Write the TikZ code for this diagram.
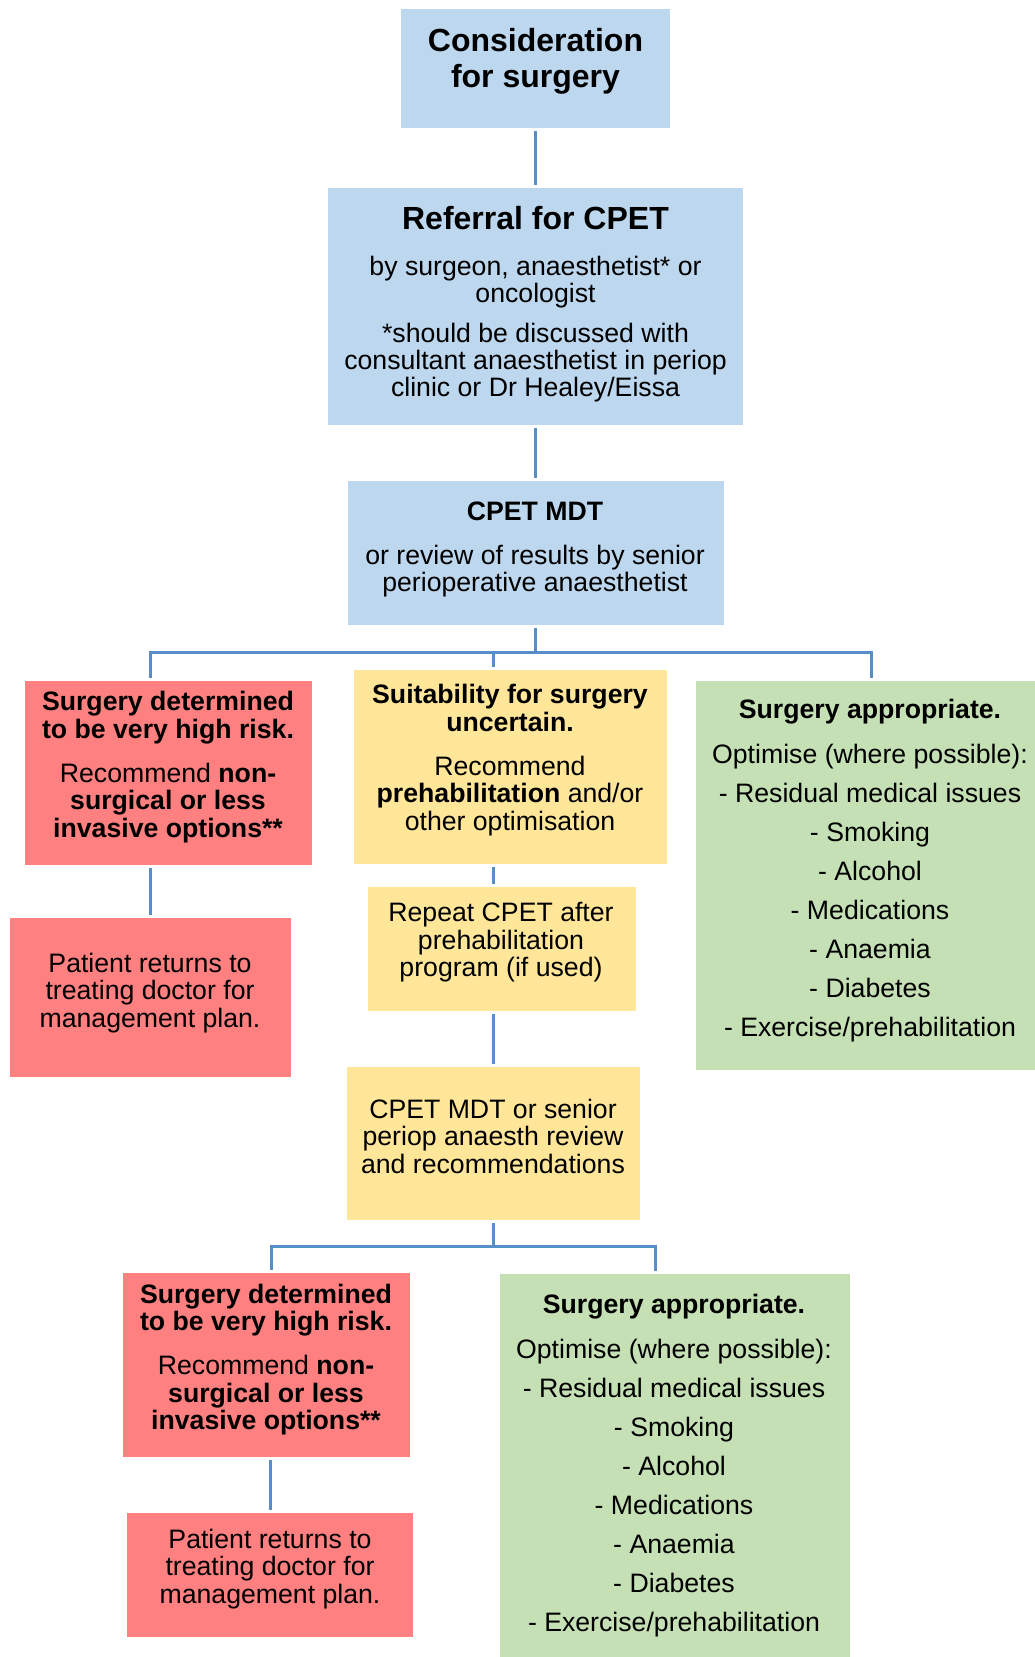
\documentclass[tikz,border=0pt]{standalone}
\usepackage{fontspec}
\setmainfont{Liberation Sans}
\usetikzlibrary{fit}
\definecolor{bxblue}{RGB}{189,215,238}
\definecolor{bxred}{RGB}{255,128,128}
\definecolor{bxyellow}{RGB}{255,230,153}
\definecolor{bxgreen}{RGB}{197,224,180}
\definecolor{lineblue}{RGB}{86,142,200}
\begin{document}
\begin{tikzpicture}[x=0.75pt,y=-0.75pt,
  box/.style={draw=none,inner sep=0pt,outer sep=0pt},
  txt/.style={align=center,inner sep=0pt,outer sep=0pt,font=\fontsize{20}{20.6}\selectfont},
  bigtxt/.style={txt,font=\fontsize{24}{27}\selectfont\bfseries},
  listtxt/.style={txt,font=\fontsize{20}{29.25}\selectfont},
  conn/.style={draw=lineblue,line width=2.25pt},
  gapa/.style={shorten <=2.25pt,shorten >=2.25pt}
]
\useasboundingbox (0,0) rectangle (1035,1657);
\fill[white] (0,0) rectangle (1035,1657);

% boxes
\node[box,fill=bxblue,fit={(401,9) (670,128)}] (b1) {};
\node[box,fill=bxblue,fit={(328,188) (743,425)}] (b2) {};
\node[box,fill=bxblue,fit={(348,481) (724,625)}] (b3) {};
\node[box,fill=bxred,fit={(25,681) (312,865)}] (r1) {};
\node[box,fill=bxyellow,fit={(354,670) (667,864)}] (y1) {};
\node[box,fill=bxgreen,fit={(696,681) (1035,1070)}] (g1) {};
\node[box,fill=bxred,fit={(10,918) (291,1077)}] (r2) {};
\node[box,fill=bxyellow,fit={(368,887) (636,1011)}] (y2) {};
\node[box,fill=bxyellow,fit={(347,1067) (640,1220)}] (y3) {};
\node[box,fill=bxred,fit={(123,1273) (410,1457)}] (r3) {};
\node[box,fill=bxred,fit={(127,1513) (413,1637)}] (r4) {};
\node[box,fill=bxgreen,fit={(500,1274) (850,1657)}] (g2) {};

% texts
\node[bigtxt] (t1) at (535.5,61) {Consideration\\for surgery};
\node[txt] (t2) at (535.5,304.2) {{\fontsize{24}{27}\selectfont\bfseries Referral for CPET}\\[13.9pt]
  by surgeon, anaesthetist* or\\ oncologist\\[9.0pt]
  *should be discussed with\\ consultant anaesthetist in periop\\ clinic or Dr Healey/Eissa};
\node[txt] (t3) at (535,549.5) {\textbf{CPET MDT}\\[12.4pt] or review of results by senior\\ perioperative anaesthetist};
\node[txt] (tr1) at (168,767) {\textbf{Surgery determined}\\ \textbf{to be very high risk.}\\[12.4pt]
  Recommend \textbf{non-}\\ \textbf{surgical or less}\\ \textbf{invasive options**}};
\node[txt] (ty1) at (510,760) {\textbf{Suitability for surgery}\\ \textbf{uncertain.}\\[12.4pt]
  Recommend\\ \textbf{prehabilitation} and/or\\ other optimisation};
\node[listtxt] (tg1) at (870,871) {\textbf{Surgery appropriate.}\\[4.5pt] Optimise (where possible):\\
  - Residual medical issues\\ - Smoking\\ - Alcohol\\ - Medications\\ - Anaemia\\ - Diabetes\\ - Exercise/prehabilitation};
\node[txt] (tr2) at (150,993) {Patient returns to\\ treating doctor for\\ management plan.};
\node[txt] (ty2) at (501,942.5) {Repeat CPET after\\ prehabilitation\\ program (if used)};
\node[txt] (ty3) at (493,1136) {CPET MDT or senior\\ periop anaesth review\\ and recommendations};
\node[txt] (tr3) at (266,1359.5) {\textbf{Surgery determined}\\ \textbf{to be very high risk.}\\[12.4pt]
  Recommend \textbf{non-}\\ \textbf{surgical or less}\\ \textbf{invasive options**}};
\node[txt] (tr4) at (270,1569) {Patient returns to\\ treating doctor for\\ management plan.};
\node[listtxt] (tg2) at (674,1465.5) {\textbf{Surgery appropriate.}\\[4.5pt] Optimise (where possible):\\
  - Residual medical issues\\ - Smoking\\ - Alcohol\\ - Medications\\ - Anaemia\\ - Diabetes\\ - Exercise/prehabilitation};

% junction coordinates
\coordinate (j1) at (535,652);
\coordinate (d1) at (150,678);
\coordinate (d2) at (493,667);
\coordinate (d3) at (871,678);
\coordinate (j2) at (493,1246);
\coordinate (d4) at (271,1270);
\coordinate (d5) at (655,1271);

% connectors
\draw[conn,gapa] (b1.south) -- (b1.south |- b2.north);
\draw[conn,gapa] (b2.south) -- (b2.south |- b3.north);
\draw[conn,shorten <=2.25pt] (b3.south -| j1) -- (j1);
\draw[conn] (d1) |- (j1) -| (d3);
\draw[conn] (d2) -- (d2 |- j1);
\draw[conn,gapa] (r2.north |- r1.south) -- (r2.north);
\draw[conn,gapa] (d2 |- y1.south) -- (d2 |- y2.north);
\draw[conn,gapa] (d2 |- y2.south) -- (d2 |- y3.north);
\draw[conn,shorten <=2.25pt] (j2 |- y3.south) -- (j2);
\draw[conn] (d4) |- (j2) -| (d5);
\draw[conn,gapa] (r4.north |- r3.south) -- (r4.north);
\end{tikzpicture}
\end{document}
